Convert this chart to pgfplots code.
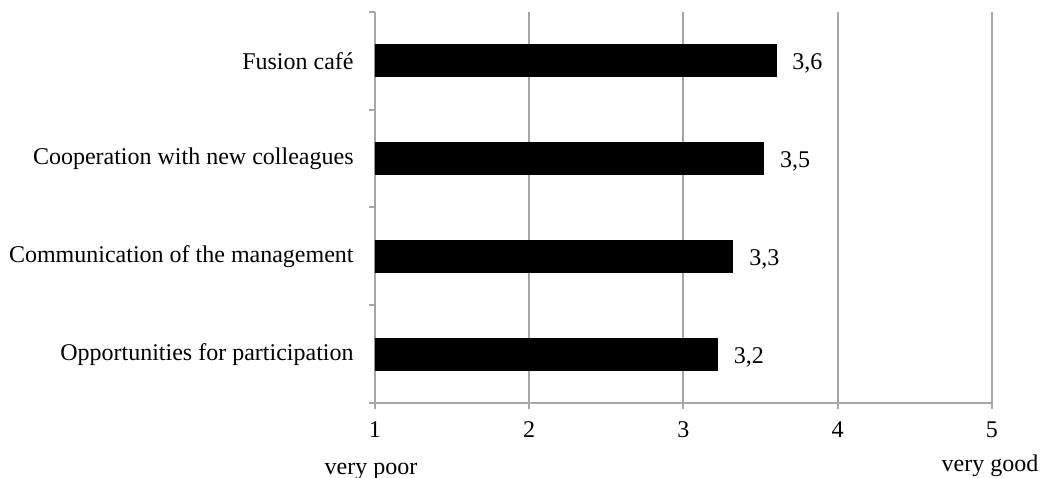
\documentclass[border=0pt]{standalone}
\usepackage{pgfplots}
\pgfplotsset{compat=1.18}
\usepackage{fontspec}
\setmainfont{Liberation Serif}
\definecolor{gridgray}{HTML}{A6A6A6}
\begin{document}
\fontsize{12bp}{14bp}\selectfont
\begin{tikzpicture}
\begin{axis}[name=ax, scale only axis, width=308.5bp, height=195.5bp,
  xbar, bar width=16bp,
  xmin=1, xmax=5, ymin=-0.5, ymax=3.5,
  axis x line*=bottom, axis y line*=left,
  axis line style={gridgray, line width=1bp, -},
  /pgf/number format/assume math mode=true,
  tick align=outside, major tick length=3bp,
  tick style={gridgray, line width=1bp},
  xtick={1,2,3,4,5},
  xmajorgrids, major grid style={gridgray, line width=1bp},
  ytick={-0.5,0.5,1.5,2.5,3.5}, yticklabels={},
  extra y ticks={0,1,2,3},
  extra y tick labels={Opportunities for participation, Communication of the management, Cooperation with new colleagues, Fusion caf\'e},
  extra y tick style={major tick length=0pt, yticklabel style={xshift=-6.5bp}},
  xticklabel style={yshift=-2bp},
  tick label style={font=\fontsize{12bp}{14bp}\selectfont, text=black},
  nodes near coords,
  nodes near coords style={anchor=west, xshift=4bp, yshift=-1.5bp, font=\fontsize{12bp}{14bp}\selectfont, text=black,
    /pgf/number format/.cd, fixed, precision=1, use comma},
]
\addplot[fill=black, draw=black] coordinates {(3.22,0) (3.32,1) (3.52,2) (3.6,3)};
\end{axis}
\node[anchor=center] at ([shift={(-2bp,-34bp)}]ax.south west) {very poor};
\node[anchor=center] at ([shift={(-1bp,-31.5bp)}]ax.south east) {very good};
\pgfresetboundingbox
\path ([shift={(-187.5bp,-37.5bp)}]ax.south west) rectangle ([shift={(27bp,6bp)}]ax.north east);
\end{tikzpicture}
\end{document}
